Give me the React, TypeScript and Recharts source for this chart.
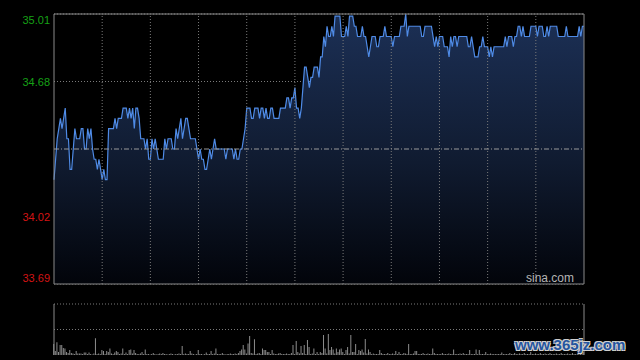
import React from "react";
import {
  ComposedChart,
  Area,
  XAxis,
  YAxis,
  CartesianGrid,
  ReferenceLine,
  ReferenceArea,
  BarChart,
  Bar,
} from "recharts";

const PREV_CLOSE = 34.35;
const PRICE_MIN = 33.69;
const PRICE_MAX = 35.01;
const PRICE_TICKS = [33.69, 34.02, 34.68, 35.01];
const PCT_TICKS = [-1.93, -0.97, 0.97, 1.93];
const TIME_TICKS = [0, 30, 60, 90, 120, 150, 180, 210, 240, 270, 300, 330];
const VOLUME_MAX = 51;

// one value per trading minute
const PRICES = [
  34.2, 34.3, 34.4, 34.45, 34.5, 34.45, 34.5, 34.55, 34.4, 34.4,
  34.25, 34.25, 34.35, 34.45, 34.4, 34.4, 34.4, 34.45, 34.45, 34.35,
  34.35, 34.45, 34.4, 34.45, 34.35, 34.3, 34.3, 34.25, 34.3, 34.25,
  34.2, 34.25, 34.2, 34.2, 34.45, 34.45, 34.45, 34.45, 34.5, 34.45,
  34.5, 34.5, 34.5, 34.55, 34.55, 34.55, 34.5, 34.55, 34.5, 34.55,
  34.45, 34.55, 34.55, 34.5, 34.4, 34.4, 34.4, 34.35, 34.4, 34.3,
  34.3, 34.4, 34.35, 34.4, 34.35, 34.3, 34.3, 34.3, 34.3, 34.4,
  34.35, 34.4, 34.4, 34.4, 34.35, 34.35, 34.45, 34.4, 34.45, 34.5,
  34.4, 34.45, 34.5, 34.5, 34.45, 34.4, 34.4, 34.4, 34.4, 34.35,
  34.3, 34.35, 34.3, 34.3, 34.25, 34.25, 34.3, 34.35, 34.3, 34.35,
  34.4, 34.35, 34.35, 34.35, 34.35, 34.35, 34.35, 34.3, 34.35, 34.35,
  34.35, 34.35, 34.3, 34.35, 34.3, 34.3, 34.35, 34.35, 34.4, 34.45,
  34.55, 34.55, 34.55, 34.5, 34.5, 34.55, 34.55, 34.55, 34.5, 34.55,
  34.55, 34.5, 34.55, 34.5, 34.5, 34.55, 34.55, 34.5, 34.5, 34.5,
  34.5, 34.55, 34.55, 34.55, 34.55, 34.6, 34.6, 34.55, 34.6, 34.6,
  34.65, 34.55, 34.55, 34.5, 34.55, 34.65, 34.75, 34.75, 34.7, 34.65,
  34.7, 34.7, 34.75, 34.75, 34.75, 34.7, 34.8, 34.8, 34.9, 34.85,
  34.95, 34.9, 34.9, 34.95, 34.9, 35.0, 35.0, 35.0, 35.0, 34.9,
  34.9, 34.9, 34.95, 34.9, 35.0, 35.0, 35.0, 34.95, 34.95, 34.9,
  34.9, 34.9, 34.95, 34.9, 34.9, 34.85, 34.8, 34.85, 34.9, 34.9,
  34.9, 34.85, 34.85, 34.9, 34.9, 34.9, 34.95, 34.9, 34.9, 34.9,
  34.9, 34.85, 34.9, 34.9, 34.9, 34.9, 34.95, 34.95, 34.95, 35.01,
  34.9, 34.95, 34.95, 34.95, 34.95, 34.95, 34.95, 34.95, 34.95, 34.9,
  34.9, 34.95, 34.95, 34.95, 34.95, 34.95, 34.9, 34.85, 34.9, 34.85,
  34.9, 34.9, 34.9, 34.85, 34.85, 34.85, 34.8, 34.9, 34.85, 34.9,
  34.9, 34.85, 34.9, 34.9, 34.9, 34.9, 34.9, 34.9, 34.85, 34.85,
  34.9, 34.85, 34.8, 34.8, 34.8, 34.85, 34.85, 34.9, 34.85, 34.85,
  34.85, 34.8, 34.85, 34.8, 34.85, 34.85, 34.85, 34.85, 34.85, 34.85,
  34.85, 34.9, 34.85, 34.9, 34.9, 34.9, 34.85, 34.9, 34.9, 34.95,
  34.95, 34.9, 34.95, 34.9, 34.9, 34.9, 34.9, 34.95, 34.95, 34.95,
  34.95, 34.9, 34.95, 34.95, 34.95, 34.9, 34.9, 34.95, 34.9, 34.95,
  34.95, 34.95, 34.95, 34.95, 34.9, 34.9, 34.9, 34.9, 34.9, 34.95,
  34.9, 34.9, 34.9, 34.9, 34.9, 34.9, 34.9, 34.95, 34.9, 34.95,
  34.95,
];

const VOLUMES = [
  11, 4, 12.7, 3, 10, 10, 7, 6.5, 3, 2,
  5, 2, 1.5, 1, 4, 1.5, 1.5, 1.5, 1, 2.5,
  2.5, 1, 2.5, 1, 0.5, 1.5, 16.7, 1, 1.5, 1,
  5, 4, 1, 4, 3, 6.5, 1.5, 1, 2.5, 4,
  3, 1, 1.5, 6.5, 1, 2.5, 1, 5, 5.5, 1.5,
  5, 2, 1, 1, 1.5, 3, 1, 5.5, 1, 1,
  0.5, 1, 2, 1, 0.5, 1, 1.5, 1, 2, 1,
  1, 0.5, 1, 1.5, 1, 0.5, 1, 1, 1.5, 1,
  9, 1, 1.5, 1, 1, 4, 1.5, 1, 0.5, 1,
  5, 1, 1, 0.5, 1, 2.5, 1, 1, 4, 1,
  1.5, 6.5, 1, 1, 1, 2, 1, 0.5, 1, 1,
  1.5, 1, 1, 1.5, 1, 2, 4, 5.5, 10, 5.5,
  1.5, 11.5, 19, 2, 1.5, 15.7, 1, 1.5, 2, 1,
  6.5, 5, 5, 3, 3, 1, 5, 1.5, 1, 1,
  1.5, 2, 1, 1, 1, 1.5, 1, 1, 2, 10,
  1, 14, 3, 1.5, 9, 2, 10, 1, 15, 8,
  1, 1.5, 6.5, 1, 3, 1, 3, 2, 20, 6.5,
  1.5, 21, 5, 8, 5.5, 1.5, 6.5, 3, 5.5, 6.5,
  3, 1, 5, 8, 1.5, 20, 3, 3, 11, 1,
  5, 4, 5.5, 2.5, 16, 1.5, 5.5, 3, 1, 1.5,
  1, 1, 1, 5, 2, 1, 1, 1, 2, 1,
  1, 1.5, 1, 4, 1, 3, 1, 1, 2, 1.5,
  1, 11, 1, 1, 1.5, 4, 4, 1, 1, 1,
  2, 1, 1, 1.5, 1, 1, 6.5, 2, 1, 1,
  1, 1, 2, 1, 1, 1, 1.5, 1, 1, 5.5,
  1, 1, 1, 1.5, 1, 2, 1, 1, 1, 5,
  1, 1, 1, 5.5, 1, 5, 1, 1, 1, 3,
  1, 1, 1.5, 1, 1, 1, 1, 1, 1, 2.5,
  1, 1, 1, 1, 2, 1, 1, 2, 1, 1,
  1.5, 1, 1, 2, 1, 1, 1, 3, 1, 1,
  1.5, 1, 1, 2, 1, 1, 1.5, 1, 1, 2,
  1, 1, 1, 1.5, 1, 1, 2, 1, 1, 1,
  1.5, 1, 1, 2, 1, 1, 1, 2.5, 1, 1.5,
  3,
];

const data = PRICES.map((price, i) => ({ t: i, price, volume: VOLUMES[i] }));

const FONT = "Arial, 'Liberation Sans', sans-serif";
const UP = "#16a016";
const DOWN = "#d41414";
const GRID = "#7a7a7a";

const edgeShift = (isTop: boolean, isBottom: boolean) => (isTop ? 10 : isBottom ? -2 : 4);

const PriceTick = (props: any) => {
  const v = props.payload.value;
  const dy = edgeShift(v === PRICE_MAX, v === PRICE_MIN);
  return (
    <text x={50} y={props.y + dy} textAnchor="end" fontSize={11} fontFamily={FONT} fill={v > PREV_CLOSE ? UP : DOWN}>
      {v.toFixed(2)}
    </text>
  );
};

const PctTick = (props: any) => {
  const v = props.payload.value;
  const top = PCT_TICKS[PCT_TICKS.length - 1];
  const dy = edgeShift(v === top, v === PCT_TICKS[0]);
  return (
    <text x={590} y={props.y + dy} textAnchor="start" fontSize={11} fontFamily={FONT} fill={v > 0 ? UP : DOWN}>
      {(v > 0 ? "+" : "") + v.toFixed(2) + "%"}
    </text>
  );
};

export default function App() {
  return (
    <div style={{ position: "absolute", left: 0, top: 0, width: 640, height: 360, background: "#000", overflow: "hidden" }}>
      <div style={{ position: "absolute", left: 0, top: 0 }}>
        <ComposedChart width={640} height={300} data={data} margin={{ top: 14, right: 0, bottom: 16, left: 0 }}>
          <defs>
            <linearGradient id="priceFill" x1="0" y1="0" x2="0" y2="1">
              <stop offset="0%" stopColor="#1c3056" />
              <stop offset="55%" stopColor="#101b30" />
              <stop offset="100%" stopColor="#02040a" />
            </linearGradient>
          </defs>
          <XAxis dataKey="t" type="number" domain={[0, 330]} ticks={TIME_TICKS} height={0} tick={false} axisLine={false} tickLine={false} />
          <YAxis
            yAxisId="price"
            orientation="left"
            width={54}
            domain={[PRICE_MIN, PRICE_MAX]}
            ticks={PRICE_TICKS}
            interval={0}
            axisLine={false}
            tickLine={false}
            tick={PriceTick}
          />
          <YAxis
            yAxisId="pct"
            orientation="right"
            width={56}
            domain={[PCT_TICKS[0], PCT_TICKS[PCT_TICKS.length - 1]]}
            ticks={PCT_TICKS}
            interval={0}
            axisLine={false}
            tickLine={false}
            tick={PctTick}
          />
          <CartesianGrid yAxisId="price" vertical={false} stroke={GRID} strokeDasharray="1 2" />
          <Area
            yAxisId="price"
            type="linear"
            dataKey="price"
            stroke="#4f8be6"
            strokeWidth={1.2}
            fill="url(#priceFill)"
            fillOpacity={1}
            dot={false}
            activeDot={false}
            isAnimationActive={false}
          />
          {TIME_TICKS.slice(1, -1).map((t) => (
            <ReferenceLine key={t} yAxisId="price" x={t} stroke={GRID} strokeDasharray="1 2" />
          ))}
          <ReferenceLine yAxisId="price" y={PREV_CLOSE} stroke="#9a9a9a" strokeDasharray="5 2 1 2" />
          <ReferenceArea yAxisId="price" x1={0} x2={330} y1={PRICE_MIN} y2={PRICE_MAX} fill="none" stroke="#8a8a8a" strokeWidth={1} />
        </ComposedChart>
      </div>
      <div
        style={{
          position: "absolute",
          right: 66,
          top: 271,
          fontFamily: FONT,
          fontSize: 12,
          color: "#b4b4b4",
          lineHeight: "14px",
        }}
      >
        sina.com
      </div>
      <div style={{ position: "absolute", left: 0, top: 300 }}>
        <BarChart width={640} height={60} data={data} margin={{ top: 4, right: 56, bottom: 5, left: 54 }}>
          <XAxis dataKey="t" type="number" domain={[0, 330]} hide />
          <YAxis domain={[0, VOLUME_MAX]} hide />
          <ReferenceLine y={VOLUME_MAX} stroke={GRID} strokeDasharray="1 2" />
          <ReferenceLine y={VOLUME_MAX / 2} stroke={GRID} strokeDasharray="1 2" />
          <Bar dataKey="volume" fill="#8c8c8c" barSize={1} isAnimationActive={false} />
          <ReferenceLine x={0} stroke="#8a8a8a" />
          <ReferenceLine x={330} stroke="#8a8a8a" />
        </BarChart>
      </div>
      <div
        style={{
          position: "absolute",
          left: 515,
          top: 336,
          fontFamily: FONT,
          fontWeight: "bold",
          fontSize: 15,
          color: "#25559f",
          textShadow: "1px 1px 0 #d0d0d0, -1px -1px 0 #d0d0d0, 1px -1px 0 #d0d0d0, -1px 1px 0 #d0d0d0",
          whiteSpace: "nowrap",
        }}
      >
        www.365jz.com
      </div>
    </div>
  );
}
